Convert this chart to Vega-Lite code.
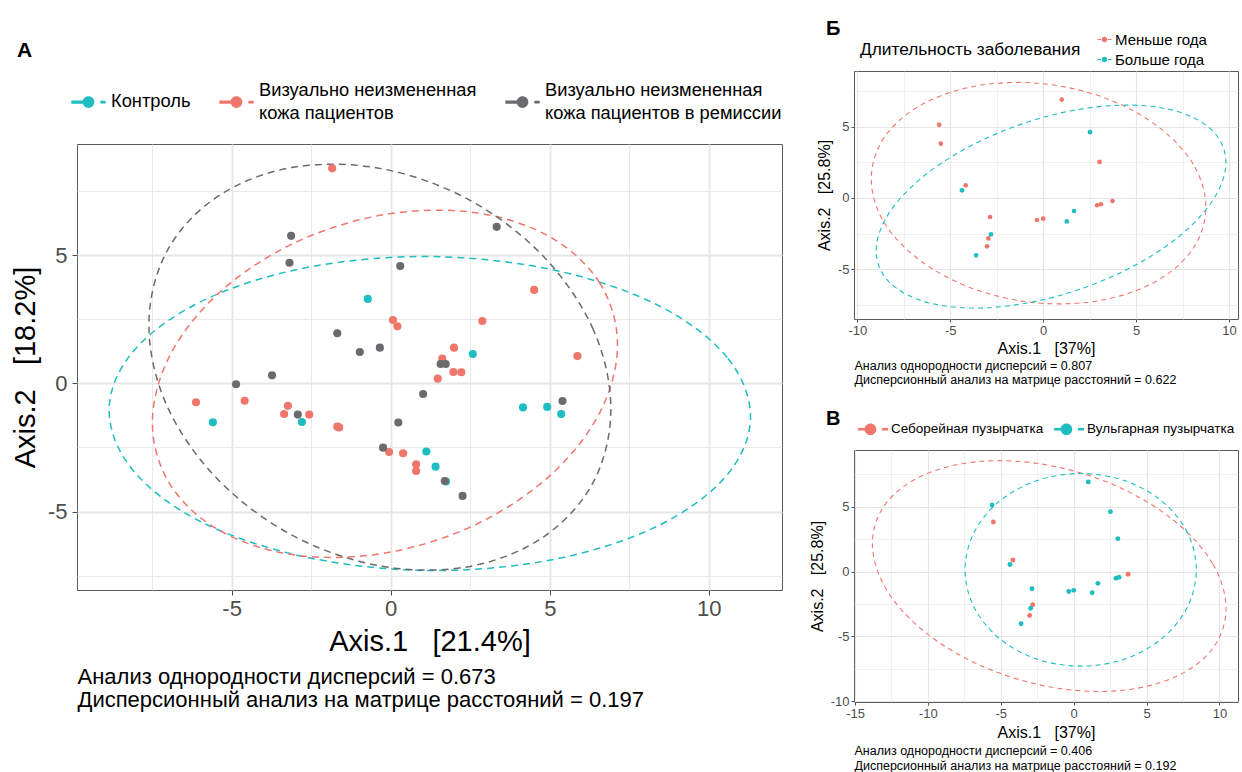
{
  "$schema": "https://vega.github.io/schema/vega-lite/v6.json",
  "padding": {"left": 10, "top": 18, "right": 0, "bottom": 0},
  "config": {
    "font": "Liberation Sans",
    "view": {"stroke": "#5a5a5a", "strokeWidth": 1},
    "style": {"guide-label": {"lineHeight": 11.5}},
    "axis": {"domain": false, "grid": true, "gridColor": "#E6E6E6", "tickColor": "#4d4d4d", "labelColor": "#4d4d4d", "titleColor": "#000000", "titleFontWeight": "normal", "labelFont": "Liberation Sans", "titleFont": "Liberation Sans"},
    "legend": {"padding": 0, "labelColor": "#000000", "titleColor": "#000000", "titleFontWeight": "normal", "labelFont": "Liberation Sans", "titleFont": "Liberation Sans"},
    "title": {"fontWeight": "bold", "color": "#000000", "anchor": "start", "frame": "group", "font": "Liberation Sans"}
  },
  "datasets": {
    "ptsA": [
      {"g": "Контроль", "x": -5.59, "y": -1.52}, {"g": "Контроль", "x": -2.79, "y": -1.51}, {"g": "Контроль", "x": -0.72, "y": 3.29}, {"g": "Контроль", "x": 2.58, "y": 1.14}, {"g": "Контроль", "x": 4.16, "y": -0.94}, {"g": "Контроль", "x": 4.92, "y": -0.92}, {"g": "Контроль", "x": 5.36, "y": -1.2}, {"g": "Контроль", "x": 1.12, "y": -2.66}, {"g": "Контроль", "x": 1.41, "y": -3.25}, {"g": "Контроль", "x": 1.74, "y": -3.83},
      {"g": "Визуально неизмененная кожа пациентов", "x": -1.84, "y": 8.38}, {"g": "Визуально неизмененная кожа пациентов", "x": 0.07, "y": 2.47}, {"g": "Визуально неизмененная кожа пациентов", "x": 0.21, "y": 2.22}, {"g": "Визуально неизмененная кожа пациентов", "x": -6.12, "y": -0.74}, {"g": "Визуально неизмененная кожа пациентов", "x": -4.59, "y": -0.68}, {"g": "Визуально неизмененная кожа пациентов", "x": -3.23, "y": -0.88}, {"g": "Визуально неизмененная кожа пациентов", "x": -3.35, "y": -1.2}, {"g": "Визуально неизмененная кожа пациентов", "x": -2.56, "y": -1.22}, {"g": "Визуально неизмененная кожа пациентов", "x": -1.68, "y": -1.69}, {"g": "Визуально неизмененная кожа пациентов", "x": -1.62, "y": -1.72}, {"g": "Визуально неизмененная кожа пациентов", "x": 4.51, "y": 3.64}, {"g": "Визуально неизмененная кожа пациентов", "x": 2.88, "y": 2.43}, {"g": "Визуально неизмененная кожа пациентов", "x": 1.99, "y": 1.39}, {"g": "Визуально неизмененная кожа пациентов", "x": 1.62, "y": 0.96}, {"g": "Визуально неизмененная кожа пациентов", "x": 1.97, "y": 0.44}, {"g": "Визуально неизмененная кожа пациентов", "x": 2.22, "y": 0.43}, {"g": "Визуально неизмененная кожа пациентов", "x": 1.48, "y": 0.18}, {"g": "Визуально неизмененная кожа пациентов", "x": 5.87, "y": 1.06}, {"g": "Визуально неизмененная кожа пациентов", "x": -0.05, "y": -2.68}, {"g": "Визуально неизмененная кожа пациентов", "x": 0.39, "y": -2.73}, {"g": "Визуально неизмененная кожа пациентов", "x": 0.8, "y": -3.16}, {"g": "Визуально неизмененная кожа пациентов", "x": 0.8, "y": -3.42},
      {"g": "Визуально неизмененная кожа пациентов в ремиссии", "x": -3.13, "y": 5.75}, {"g": "Визуально неизмененная кожа пациентов в ремиссии", "x": -3.18, "y": 4.7}, {"g": "Визуально неизмененная кожа пациентов в ремиссии", "x": 0.3, "y": 4.57}, {"g": "Визуально неизмененная кожа пациентов в ремиссии", "x": -1.68, "y": 1.95}, {"g": "Визуально неизмененная кожа пациентов в ремиссии", "x": -0.97, "y": 1.22}, {"g": "Визуально неизмененная кожа пациентов в ремиссии", "x": -0.34, "y": 1.39}, {"g": "Визуально неизмененная кожа пациентов в ремиссии", "x": -3.73, "y": 0.31}, {"g": "Визуально неизмененная кожа пациентов в ремиссии", "x": -4.86, "y": -0.04}, {"g": "Визуально неизмененная кожа пациентов в ремиссии", "x": -2.92, "y": -1.22}, {"g": "Визуально неизмененная кожа пациентов в ремиссии", "x": 0.24, "y": -1.53}, {"g": "Визуально неизмененная кожа пациентов в ремиссии", "x": 1.02, "y": -0.42}, {"g": "Визуально неизмененная кожа пациентов в ремиссии", "x": 3.33, "y": 6.1}, {"g": "Визуально неизмененная кожа пациентов в ремиссии", "x": 1.57, "y": 0.75}, {"g": "Визуально неизмененная кожа пациентов в ремиссии", "x": 1.73, "y": 0.75}, {"g": "Визуально неизмененная кожа пациентов в ремиссии", "x": 5.4, "y": -0.69}, {"g": "Визуально неизмененная кожа пациентов в ремиссии", "x": -0.24, "y": -2.51}, {"g": "Визуально неизмененная кожа пациентов в ремиссии", "x": 1.7, "y": -3.81}, {"g": "Визуально неизмененная кожа пациентов в ремиссии", "x": 2.26, "y": -4.39}
    ],
    "ellA": [
      {"g": "Контроль", "i": 0, "x": 11.31, "y": -1.36}, {"g": "Контроль", "i": 1, "x": 10.58, "y": 1.0}, {"g": "Контроль", "i": 2, "x": 8.44, "y": 3.02}, {"g": "Контроль", "i": 3, "x": 5.19, "y": 4.4}, {"g": "Контроль", "i": 4, "x": 1.34, "y": 4.94}, {"g": "Контроль", "i": 5, "x": -2.53, "y": 4.54}, {"g": "Контроль", "i": 6, "x": -5.82, "y": 3.27}, {"g": "Контроль", "i": 7, "x": -8.04, "y": 1.32}, {"g": "Контроль", "i": 8, "x": -8.85, "y": -1.0}, {"g": "Контроль", "i": 9, "x": -8.12, "y": -3.36}, {"g": "Контроль", "i": 10, "x": -5.98, "y": -5.39}, {"g": "Контроль", "i": 11, "x": -2.73, "y": -6.76}, {"g": "Контроль", "i": 12, "x": 1.12, "y": -7.3}, {"g": "Контроль", "i": 13, "x": 4.99, "y": -6.9}, {"g": "Контроль", "i": 14, "x": 8.28, "y": -5.63}, {"g": "Контроль", "i": 15, "x": 10.5, "y": -3.68},
      {"g": "Визуально неизмененная кожа пациентов", "i": 0, "x": 7.13, "y": 1.5}, {"g": "Визуально неизмененная кожа пациентов", "i": 1, "x": 6.57, "y": 3.91}, {"g": "Визуально неизмененная кожа пациентов", "i": 2, "x": 4.99, "y": 5.72}, {"g": "Визуально неизмененная кожа пациентов", "i": 3, "x": 2.62, "y": 6.66}, {"g": "Визуально неизмененная кожа пациентов", "i": 4, "x": -0.18, "y": 6.58}, {"g": "Визуально неизмененная кожа пациентов", "i": 5, "x": -2.98, "y": 5.5}, {"g": "Визуально неизмененная кожа пациентов", "i": 6, "x": -5.35, "y": 3.58}, {"g": "Визуально неизмененная кожа пациентов", "i": 7, "x": -6.93, "y": 1.11}, {"g": "Визуально неизмененная кожа пациентов", "i": 8, "x": -7.49, "y": -1.54}, {"g": "Визуально неизмененная кожа пациентов", "i": 9, "x": -6.93, "y": -3.95}, {"g": "Визуально неизмененная кожа пациентов", "i": 10, "x": -5.35, "y": -5.76}, {"g": "Визуально неизмененная кожа пациентов", "i": 11, "x": -2.98, "y": -6.7}, {"g": "Визуально неизмененная кожа пациентов", "i": 12, "x": -0.18, "y": -6.62}, {"g": "Визуально неизмененная кожа пациентов", "i": 13, "x": 2.62, "y": -5.54}, {"g": "Визуально неизмененная кожа пациентов", "i": 14, "x": 4.99, "y": -3.62}, {"g": "Визуально неизмененная кожа пациентов", "i": 15, "x": 6.57, "y": -1.15},
      {"g": "Визуально неизмененная кожа пациентов в ремиссии", "i": 0, "x": 6.92, "y": -1.0}, {"g": "Визуально неизмененная кожа пациентов в ремиссии", "i": 1, "x": 6.37, "y": 2.09}, {"g": "Визуально неизмененная кожа пациентов в ремиссии", "i": 2, "x": 4.79, "y": 4.96}, {"g": "Визуально неизмененная кожа пациентов в ремиссии", "i": 3, "x": 2.44, "y": 7.17}, {"g": "Визуально неизмененная кожа пациентов в ремиссии", "i": 4, "x": -0.34, "y": 8.38}, {"g": "Визуально неизмененная кожа пациентов в ремиссии", "i": 5, "x": -3.12, "y": 8.41}, {"g": "Визуально неизмененная кожа пациентов в ремиссии", "i": 6, "x": -5.47, "y": 7.26}, {"g": "Визуально неизмененная кожа пациентов в ремиссии", "i": 7, "x": -7.05, "y": 5.11}, {"g": "Визуально неизмененная кожа пациентов в ремиссии", "i": 8, "x": -7.6, "y": 2.26}, {"g": "Визуально неизмененная кожа пациентов в ремиссии", "i": 9, "x": -7.05, "y": -0.83}, {"g": "Визуально неизмененная кожа пациентов в ремиссии", "i": 10, "x": -5.47, "y": -3.7}, {"g": "Визуально неизмененная кожа пациентов в ремиссии", "i": 11, "x": -3.12, "y": -5.91}, {"g": "Визуально неизмененная кожа пациентов в ремиссии", "i": 12, "x": -0.34, "y": -7.12}, {"g": "Визуально неизмененная кожа пациентов в ремиссии", "i": 13, "x": 2.44, "y": -7.15}, {"g": "Визуально неизмененная кожа пациентов в ремиссии", "i": 14, "x": 4.79, "y": -6.0}, {"g": "Визуально неизмененная кожа пациентов в ремиссии", "i": 15, "x": 6.37, "y": -3.85}
    ],
    "ptsBV": [
      {"x": -5.6, "y": 5.13, "dur": "Меньше года", "type": "Вульгарная пузырчатка"},
      {"x": -5.51, "y": 3.81, "dur": "Меньше года", "type": "Себорейная пузырчатка"},
      {"x": 1.0, "y": 6.9, "dur": "Меньше года", "type": "Вульгарная пузырчатка"},
      {"x": 2.52, "y": 4.61, "dur": "Больше года", "type": "Вульгарная пузырчатка"},
      {"x": 3.03, "y": 2.53, "dur": "Меньше года", "type": "Вульгарная пузырчатка"},
      {"x": -4.17, "y": 0.89, "dur": "Меньше года", "type": "Себорейная пузырчатка"},
      {"x": -4.37, "y": 0.54, "dur": "Больше года", "type": "Вульгарная пузырчатка"},
      {"x": 3.73, "y": -0.21, "dur": "Меньше года", "type": "Себорейная пузырчатка"},
      {"x": 2.9, "y": -0.51, "dur": "Меньше года", "type": "Вульгарная пузырчатка"},
      {"x": 3.11, "y": -0.44, "dur": "Меньше года", "type": "Вульгарная пузырчатка"},
      {"x": 1.66, "y": -0.91, "dur": "Больше года", "type": "Вульгарная пузырчатка"},
      {"x": 1.27, "y": -1.64, "dur": "Больше года", "type": "Вульгарная пузырчатка"},
      {"x": -0.34, "y": -1.54, "dur": "Меньше года", "type": "Вульгарная пузырчатка"},
      {"x": 0.0, "y": -1.45, "dur": "Меньше года", "type": "Вульгарная пузырчатка"},
      {"x": -2.86, "y": -1.33, "dur": "Меньше года", "type": "Вульгарная пузырчатка"},
      {"x": -2.81, "y": -2.55, "dur": "Больше года", "type": "Себорейная пузырчатка"},
      {"x": -2.95, "y": -2.83, "dur": "Меньше года", "type": "Вульгарная пузырчатка"},
      {"x": -3.02, "y": -3.39, "dur": "Меньше года", "type": "Себорейная пузырчатка"},
      {"x": -3.61, "y": -4.02, "dur": "Больше года", "type": "Вульгарная пузырчатка"}
    ],
    "ellB": [
      {"g": "Меньше года", "i": 0, "x": 8.75, "y": -0.66}, {"g": "Меньше года", "i": 1, "x": 8.07, "y": 2.37}, {"g": "Меньше года", "i": 2, "x": 6.11, "y": 5.07}, {"g": "Меньше года", "i": 3, "x": 3.2, "y": 7.07}, {"g": "Меньше года", "i": 4, "x": -0.25, "y": 8.04}, {"g": "Меньше года", "i": 5, "x": -3.7, "y": 7.83}, {"g": "Меньше года", "i": 6, "x": -6.61, "y": 6.49}, {"g": "Меньше года", "i": 7, "x": -8.57, "y": 4.21}, {"g": "Меньше года", "i": 8, "x": -9.25, "y": 1.34}, {"g": "Меньше года", "i": 9, "x": -8.57, "y": -1.69}, {"g": "Меньше года", "i": 10, "x": -6.61, "y": -4.39}, {"g": "Меньше года", "i": 11, "x": -3.7, "y": -6.39}, {"g": "Меньше года", "i": 12, "x": -0.25, "y": -7.36}, {"g": "Меньше года", "i": 13, "x": 3.2, "y": -7.15}, {"g": "Меньше года", "i": 14, "x": 6.11, "y": -5.81}, {"g": "Меньше года", "i": 15, "x": 8.07, "y": -3.53},
      {"g": "Больше года", "i": 0, "x": 9.83, "y": 2.5}, {"g": "Больше года", "i": 1, "x": 9.11, "y": 4.71}, {"g": "Больше года", "i": 2, "x": 7.07, "y": 6.12}, {"g": "Больше года", "i": 3, "x": 4.02, "y": 6.5}, {"g": "Больше года", "i": 4, "x": 0.42, "y": 5.8}, {"g": "Больше года", "i": 5, "x": -3.18, "y": 4.12}, {"g": "Больше года", "i": 6, "x": -6.23, "y": 1.74}, {"g": "Больше года", "i": 7, "x": -8.27, "y": -1.01}, {"g": "Больше года", "i": 8, "x": -8.99, "y": -3.7}, {"g": "Больше года", "i": 9, "x": -8.27, "y": -5.91}, {"g": "Больше года", "i": 10, "x": -6.23, "y": -7.32}, {"g": "Больше года", "i": 11, "x": -3.18, "y": -7.7}, {"g": "Больше года", "i": 12, "x": 0.42, "y": -7.0}, {"g": "Больше года", "i": 13, "x": 4.02, "y": -5.32}, {"g": "Больше года", "i": 14, "x": 7.07, "y": -2.94}, {"g": "Больше года", "i": 15, "x": 9.11, "y": -0.19}
    ],
    "ellV": [
      {"g": "Себорейная пузырчатка", "i": 0, "x": 10.45, "y": -2.85}, {"g": "Себорейная пузырчатка", "i": 1, "x": 9.53, "y": 0.61}, {"g": "Себорейная пузырчатка", "i": 2, "x": 6.9, "y": 3.91}, {"g": "Себорейная пузырчатка", "i": 3, "x": 2.97, "y": 6.57}, {"g": "Себорейная пузырчатка", "i": 4, "x": -1.68, "y": 8.18}, {"g": "Себорейная пузырчатка", "i": 5, "x": -6.33, "y": 8.49}, {"g": "Себорейная пузырчатка", "i": 6, "x": -10.26, "y": 7.45}, {"g": "Себорейная пузырчатка", "i": 7, "x": -12.89, "y": 5.23}, {"g": "Себорейная пузырчатка", "i": 8, "x": -13.81, "y": 2.15}, {"g": "Себорейная пузырчатка", "i": 9, "x": -12.89, "y": -1.31}, {"g": "Себорейная пузырчатка", "i": 10, "x": -10.26, "y": -4.61}, {"g": "Себорейная пузырчатка", "i": 11, "x": -6.33, "y": -7.27}, {"g": "Себорейная пузырчатка", "i": 12, "x": -1.68, "y": -8.88}, {"g": "Себорейная пузырчатка", "i": 13, "x": 2.97, "y": -9.19}, {"g": "Себорейная пузырчатка", "i": 14, "x": 6.9, "y": -8.15}, {"g": "Себорейная пузырчатка", "i": 15, "x": 9.53, "y": -5.93},
      {"g": "Вульгарная пузырчатка", "i": 0, "x": 8.41, "y": 0.13}, {"g": "Вульгарная пузырчатка", "i": 1, "x": 7.81, "y": 2.97}, {"g": "Вульгарная пузырчатка", "i": 2, "x": 6.09, "y": 5.38}, {"g": "Вульгарная пузырчатка", "i": 3, "x": 3.52, "y": 6.99}, {"g": "Вульгарная пузырчатка", "i": 4, "x": 0.48, "y": 7.55}, {"g": "Вульгарная пузырчатка", "i": 5, "x": -2.56, "y": 6.99}, {"g": "Вульгарная пузырчатка", "i": 6, "x": -5.13, "y": 5.38}, {"g": "Вульгарная пузырчатка", "i": 7, "x": -6.85, "y": 2.97}, {"g": "Вульгарная пузырчатка", "i": 8, "x": -7.45, "y": 0.13}, {"g": "Вульгарная пузырчатка", "i": 9, "x": -6.85, "y": -2.71}, {"g": "Вульгарная пузырчатка", "i": 10, "x": -5.13, "y": -5.12}, {"g": "Вульгарная пузырчатка", "i": 11, "x": -2.56, "y": -6.73}, {"g": "Вульгарная пузырчатка", "i": 12, "x": 0.48, "y": -7.29}, {"g": "Вульгарная пузырчатка", "i": 13, "x": 3.52, "y": -6.73}, {"g": "Вульгарная пузырчатка", "i": 14, "x": 6.09, "y": -5.12}, {"g": "Вульгарная пузырчатка", "i": 15, "x": 7.81, "y": -2.71}
    ]
  },
  "spacing": 25,
  "resolve": {"scale": {"x": "independent", "y": "independent", "color": "independent", "stroke": "independent"}, "legend": {"color": "independent"}},
  "hconcat": [
    {
      "spacing": 0,
      "resolve": {"scale": {"x": "independent", "y": "independent", "color": "independent", "stroke": "independent"}, "legend": {"color": "independent"}},
      "vconcat": [
        {
          "width": 705, "height": 1,
          "view": {"stroke": null},
          "title": {"text": "А", "fontSize": 21, "dx": -60, "offset": 10},
          "data": {"values": []},
          "mark": {"type": "point"}
        },
        {
          "width": 705, "height": 446,
          "resolve": {"axis": {"x": "independent"}},
          "layer": [
            {
              "data": {"name": "ellA"},
              "mark": {"type": "line", "strokeDash": [7, 5], "strokeWidth": 1.5, "interpolate": "cardinal-closed"},
              "encoding": {
                "x": {"field": "x", "type": "quantitative", "scale": {"domain": [-9.86, 12.3], "nice": false, "zero": false},
                  "axis": {"values": [-7.5, -5, -2.5, 0, 2.5, 5, 7.5, 10], "labelExpr": "datum.value % 5 == 0 ? '' + datum.value : ''", "gridWidth": {"condition": {"test": "datum.value % 5 == 0", "value": 1.8}, "value": 0.9}, "tickOpacity": {"condition": {"test": "datum.value % 5 == 0", "value": 1}, "value": 0}, "tickSize": 5, "labelFontSize": 22, "labelPadding": 3, "title": "Axis.1\u00a0\u00a0\u00a0[21.4%]", "titleFontSize": 29, "titlePadding": 8}},
                "y": {"field": "y", "type": "quantitative", "scale": {"domain": [-8.06, 9.33], "nice": false, "zero": false},
                  "axis": {"values": [-7.5, -5, -2.5, 0, 2.5, 5, 7.5], "labelExpr": "datum.value % 5 == 0 ? '' + datum.value : ''", "gridWidth": {"condition": {"test": "datum.value % 5 == 0", "value": 1.8}, "value": 0.9}, "tickOpacity": {"condition": {"test": "datum.value % 5 == 0", "value": 1}, "value": 0}, "tickSize": 5, "labelFontSize": 22, "labelPadding": 5, "title": "Axis.2\u00a0\u00a0\u00a0[18.2%]", "titleFontSize": 29, "titlePadding": 7}},
                "stroke": {"field": "g", "type": "nominal", "scale": {"domain": ["Визуально неизмененная кожа пациентов в ремиссии", "Визуально неизмененная кожа пациентов", "Контроль"], "range": ["#6B6B6E", "#F0766C", "#1DBDC2"]}, "legend": null},
                "order": {"field": "i", "type": "quantitative"}
              }
            },
            {
              "data": {"name": "ptsA"},
              "mark": {"type": "circle", "size": 66, "opacity": 1},
              "encoding": {
                "x": {"field": "x", "type": "quantitative", "scale": {"domain": [-9.86, 12.3], "nice": false, "zero": false},
                  "axis": {"orient": "bottom", "labels": false, "ticks": false, "grid": false, "domain": false, "title": ["Анализ однородности дисперсий = 0.673", "Дисперсионный анализ на матрице расстояний = 0.197"], "titleAnchor": "start", "titleAlign": "left", "titleFontSize": 22, "titleLineHeight": 23, "titlePadding": 76}},
                "y": {"field": "y", "type": "quantitative", "scale": {"domain": [-8.06, 9.33], "nice": false, "zero": false},
                  "axis": {"values": [-7.5, -5, -2.5, 0, 2.5, 5, 7.5], "labelExpr": "datum.value % 5 == 0 ? '' + datum.value : ''", "gridWidth": {"condition": {"test": "datum.value % 5 == 0", "value": 1.8}, "value": 0.9}, "tickOpacity": {"condition": {"test": "datum.value % 5 == 0", "value": 1}, "value": 0}, "tickSize": 5, "labelFontSize": 22, "labelPadding": 5, "title": "Axis.2\u00a0\u00a0\u00a0[18.2%]", "titleFontSize": 29, "titlePadding": 7}},
                "color": {"field": "g", "type": "nominal", "scale": {"domain": ["Контроль", "Визуально неизмененная кожа пациентов", "Визуально неизмененная кожа пациентов в ремиссии"], "range": ["#1DBDC2", "#F0766C", "#6B6B6E"]},
                  "legend": {"orient": "none", "legendX": -6, "legendY": -71, "direction": "horizontal", "title": null, "symbolType": "M-1,0.58L-0.33,0.58L-0.33,0.76L-1,0.76Z M0.34,0.67A0.34,0.34 0 1,1 -0.34,0.67A0.34,0.34 0 1,1 0.34,0.67Z M0.69,0.59L1,0.59L1,0.75L0.69,0.75Z", "symbolSize": 1180, "symbolStrokeWidth": 0, "labelFontSize": 18.3, "labelLimit": 400, "labelOffset": 5, "columnPadding": 28, "labelExpr": "datum.label == 'Контроль' ? ['\u200b', 'Контроль', '\u200b'] : datum.label == 'Визуально неизмененная кожа пациентов' ? ['Визуально неизмененная', '\u200b', 'кожа пациентов'] : ['Визуально неизмененная', '\u200b', 'кожа пациентов в ремиссии']"}}
              }
            }
          ]
        }
      ]
    },
    {
      "spacing": 22,
      "resolve": {"scale": {"x": "independent", "y": "independent", "color": "independent", "stroke": "independent"}, "legend": {"color": "independent"}},
      "vconcat": [
        {
          "width": 384, "height": 248,
          "title": {"text": "Б", "fontSize": 20, "dx": -28, "offset": -7},
          "resolve": {"axis": {"x": "independent"}},
          "layer": [
            {
              "data": {"name": "ellB"},
              "mark": {"type": "line", "strokeDash": [5, 4], "strokeWidth": 1.1, "interpolate": "cardinal-closed"},
              "encoding": {
                "x": {"field": "x", "type": "quantitative", "scale": {"domain": [-10.18, 10.48], "nice": false, "zero": false},
                  "axis": {"values": [-10, -7.5, -5, -2.5, 0, 2.5, 5, 7.5, 10], "labelExpr": "datum.value % 5 == 0 ? '' + datum.value : ''", "gridWidth": {"condition": {"test": "datum.value % 5 == 0", "value": 1.2}, "value": 0.6}, "tickOpacity": {"condition": {"test": "datum.value % 5 == 0", "value": 1}, "value": 0}, "tickSize": 3, "labelFontSize": 13, "labelPadding": 2, "title": "Axis.1\u00a0\u00a0\u00a0[37%]", "titleFontSize": 16, "titlePadding": 3}},
                "y": {"field": "y", "type": "quantitative", "scale": {"domain": [-8.48, 8.9], "nice": false, "zero": false},
                  "axis": {"values": [-7.5, -5, -2.5, 0, 2.5, 5, 7.5], "labelExpr": "datum.value % 5 == 0 ? '' + datum.value : ''", "gridWidth": {"condition": {"test": "datum.value % 5 == 0", "value": 1.2}, "value": 0.6}, "tickOpacity": {"condition": {"test": "datum.value % 5 == 0", "value": 1}, "value": 0}, "tickSize": 3, "labelFontSize": 13, "labelPadding": 2, "title": "Axis.2\u00a0\u00a0\u00a0[25.8%]", "titleFontSize": 16, "titlePadding": 5}},
                "stroke": {"field": "g", "type": "nominal", "scale": {"domain": ["Больше года", "Меньше года"], "range": ["#1DBDC2", "#F0766C"]}, "legend": null},
                "order": {"field": "i", "type": "quantitative"}
              }
            },
            {
              "data": {"name": "ptsBV"},
              "mark": {"type": "circle", "size": 22, "opacity": 1},
              "encoding": {
                "x": {"field": "x", "type": "quantitative", "scale": {"domain": [-10.18, 10.48], "nice": false, "zero": false},
                  "axis": {"orient": "bottom", "labels": false, "ticks": false, "grid": false, "domain": false, "title": ["Анализ однородности дисперсий = 0.807", "Дисперсионный анализ на матрице расстояний = 0.622"], "titleAnchor": "start", "titleAlign": "left", "titleFontSize": 12.5, "titleLineHeight": 14, "titlePadding": 40}},
                "y": {"field": "y", "type": "quantitative", "scale": {"domain": [-8.48, 8.9], "nice": false, "zero": false},
                  "axis": {"values": [-7.5, -5, -2.5, 0, 2.5, 5, 7.5], "labelExpr": "datum.value % 5 == 0 ? '' + datum.value : ''", "gridWidth": {"condition": {"test": "datum.value % 5 == 0", "value": 1.2}, "value": 0.6}, "tickOpacity": {"condition": {"test": "datum.value % 5 == 0", "value": 1}, "value": 0}, "tickSize": 3, "labelFontSize": 13, "labelPadding": 2, "title": "Axis.2\u00a0\u00a0\u00a0[25.8%]", "titleFontSize": 16, "titlePadding": 5}},
                "color": {"field": "dur", "type": "nominal", "scale": {"domain": ["Меньше года", "Больше года"], "range": ["#F0766C", "#1DBDC2"]},
                  "legend": {"orient": "none", "legendX": 6, "legendY": -39, "direction": "vertical", "title": "Длительность заболевания", "titleLimit": 400, "titleOrient": "left", "titleAnchor": "middle", "titleBaseline": "middle", "titleFontSize": 17.3, "titlePadding": 16, "symbolType": "M-1,-0.08L-0.5,-0.08L-0.5,0.08L-1,0.08Z M0.4,0A0.4,0.4 0 1,1 -0.4,0A0.4,0.4 0 1,1 0.4,0Z M0.5,-0.08L1,-0.08L1,0.08L0.5,0.08Z", "symbolSize": 196, "symbolStrokeWidth": 0, "labelFontSize": 15, "labelOffset": 3, "rowPadding": 4, "labelLimit": 300}}
              }
            }
          ]
        },
        {
          "width": 384, "height": 252,
          "title": {"text": "В", "fontSize": 20, "dx": -28, "offset": -15},
          "resolve": {"axis": {"x": "independent"}},
          "layer": [
            {
              "data": {"name": "ellV"},
              "mark": {"type": "line", "strokeDash": [5, 4], "strokeWidth": 1.1, "interpolate": "cardinal-closed"},
              "encoding": {
                "x": {"field": "x", "type": "quantitative", "scale": {"domain": [-15.07, 11.27], "nice": false, "zero": false},
                  "axis": {"values": [-15, -12.5, -10, -7.5, -5, -2.5, 0, 2.5, 5, 7.5, 10], "labelExpr": "datum.value % 5 == 0 ? '' + datum.value : ''", "gridWidth": {"condition": {"test": "datum.value % 5 == 0", "value": 1.2}, "value": 0.6}, "tickOpacity": {"condition": {"test": "datum.value % 5 == 0", "value": 1}, "value": 0}, "tickSize": 3, "labelFontSize": 13, "labelPadding": 2, "title": "Axis.1\u00a0\u00a0\u00a0[37%]", "titleFontSize": 16, "titlePadding": 4}},
                "y": {"field": "y", "type": "quantitative", "scale": {"domain": [-10.05, 9.36], "nice": false, "zero": false},
                  "axis": {"values": [-10, -7.5, -5, -2.5, 0, 2.5, 5, 7.5], "labelExpr": "datum.value % 5 == 0 ? '' + datum.value : ''", "gridWidth": {"condition": {"test": "datum.value % 5 == 0", "value": 1.2}, "value": 0.6}, "tickOpacity": {"condition": {"test": "datum.value % 5 == 0", "value": 1}, "value": 0}, "tickSize": 3, "labelFontSize": 13, "labelPadding": 2, "title": "Axis.2\u00a0\u00a0\u00a0[25.8%]", "titleFontSize": 16, "titlePadding": 5}},
                "stroke": {"field": "g", "type": "nominal", "scale": {"domain": ["Вульгарная пузырчатка", "Себорейная пузырчатка"], "range": ["#1DBDC2", "#F0766C"]}, "legend": null},
                "order": {"field": "i", "type": "quantitative"}
              }
            },
            {
              "data": {"name": "ptsBV"},
              "mark": {"type": "circle", "size": 24, "opacity": 1},
              "encoding": {
                "x": {"field": "x", "type": "quantitative", "scale": {"domain": [-15.07, 11.27], "nice": false, "zero": false},
                  "axis": {"orient": "bottom", "labels": false, "ticks": false, "grid": false, "domain": false, "title": ["Анализ однородности дисперсий = 0.406", "Дисперсионный анализ на матрице расстояний = 0.192"], "titleAnchor": "start", "titleAlign": "left", "titleFontSize": 12.5, "titleLineHeight": 15, "titlePadding": 42}},
                "y": {"field": "y", "type": "quantitative", "scale": {"domain": [-10.05, 9.36], "nice": false, "zero": false},
                  "axis": {"values": [-10, -7.5, -5, -2.5, 0, 2.5, 5, 7.5], "labelExpr": "datum.value % 5 == 0 ? '' + datum.value : ''", "gridWidth": {"condition": {"test": "datum.value % 5 == 0", "value": 1.2}, "value": 0.6}, "tickOpacity": {"condition": {"test": "datum.value % 5 == 0", "value": 1}, "value": 0}, "tickSize": 3, "labelFontSize": 13, "labelPadding": 2, "title": "Axis.2\u00a0\u00a0\u00a0[25.8%]", "titleFontSize": 16, "titlePadding": 5}},
                "color": {"field": "type", "type": "nominal", "scale": {"domain": ["Себорейная пузырчатка", "Вульгарная пузырчатка"], "range": ["#F0766C", "#1DBDC2"]},
                  "legend": {"orient": "none", "legendX": 4, "legendY": -36, "direction": "horizontal", "title": null, "symbolType": "M-1,-0.09L-0.45,-0.09L-0.45,0.09L-1,0.09Z M0.22,0A0.39,0.39 0 1,1 -0.56,0A0.39,0.39 0 1,1 0.22,0Z M0.6,-0.08L1,-0.08L1,0.08L0.6,0.08Z", "symbolSize": 900, "symbolStrokeWidth": 0, "labelFontSize": 13.5, "labelOffset": 3, "columnPadding": 10, "labelLimit": 300}}
              }
            }
          ]
        }
      ]
    }
  ]
}
